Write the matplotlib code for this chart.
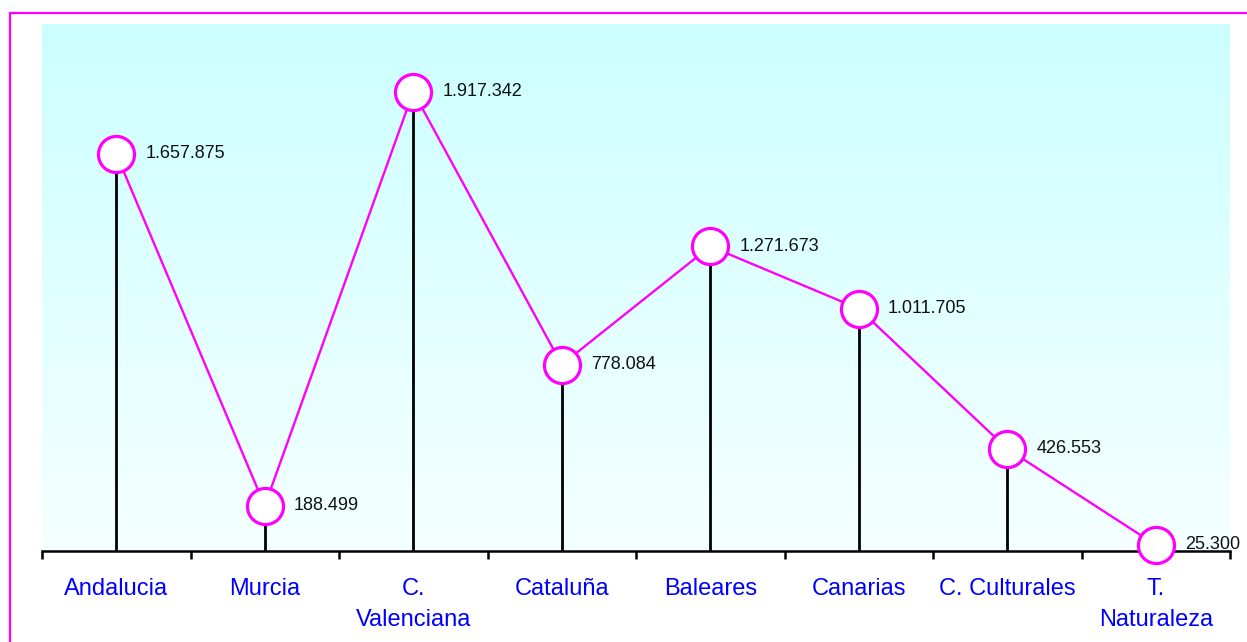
import matplotlib
matplotlib.use("Agg")
import matplotlib.pyplot as plt
import numpy as np
from matplotlib.patches import Rectangle
from matplotlib.colors import LinearSegmentedColormap

categories = ["Andalucia", "Murcia", "C.\nValenciana", "Cataluña", "Baleares",
              "Canarias", "C. Culturales", "T.\nNaturaleza"]
values = [1657875, 188499, 1917342, 778084, 1271673, 1011705, 426553, 25300]
value_labels = ["1.657.875", "188.499", "1.917.342", "778.084", "1.271.673",
                "1.011.705", "426.553", "25.300"]

plt.rcParams['font.family'] = ['Liberation Sans', 'DejaVu Sans']

W, H = 1247, 642
fig = plt.figure(figsize=(W / 100, H / 100), dpi=100)
fig.patch.set_facecolor('white')

# figure border (extends beyond right/bottom edges)
fig.add_artist(Rectangle((10 / W, -0.05), 1.2, 1 - 13 / H + 0.05,
                         transform=fig.transFigure, fill=False,
                         edgecolor='#FF00FF', linewidth=1.6, clip_on=False))

left, right = 42 / W, 1230 / W
bottom, top = 1 - 551 / H, 1 - 24 / H
ax = fig.add_axes([left, bottom, right - left, top - bottom])

x = np.arange(len(categories))
ax.set_xlim(-0.5, len(categories) - 0.5)
ax.set_ylim(0, 2200000)

# gradient background
cmap = LinearSegmentedColormap.from_list('bg', ['#F5FFFF', '#CCFFFF'])
grad = np.linspace(0, 1, 256).reshape(-1, 1)
ax.imshow(grad, aspect='auto', cmap=cmap, origin='lower',
          extent=[0, 1, 0, 1], transform=ax.transAxes, zorder=0)

# drop lines
ax.vlines(x, 0, values, colors='black', linewidth=2.0, zorder=2)
# connecting line
ax.plot(x, values, color='#FF00FF', linewidth=1.7, zorder=3)
# markers
ax.plot(x, values, linestyle='none', marker='o', markersize=26,
        markerfacecolor='white', markeredgecolor='#FF00FF',
        markeredgewidth=2.3, zorder=5, clip_on=False)

# value labels
for xi, v, lab in zip(x, values, value_labels):
    ax.annotate(lab, (xi, v), xytext=(21, 0), textcoords='offset points',
                ha='left', va='center', fontsize=13, color='#111111',
                zorder=6, annotation_clip=False)

for s in ['top', 'right', 'left']:
    ax.spines[s].set_visible(False)
ax.spines['bottom'].set_linewidth(1.8)
ax.spines['bottom'].set_zorder(4)

ax.set_yticks([])
ax.set_xticks(x)
ax.set_xticklabels(categories, fontsize=17, color='#0000FF', linespacing=1.5)
ax.tick_params(axis='x', which='major', length=0, pad=19.5)
ax.set_xticks(np.arange(-0.5, len(categories), 1.0), minor=True)
ax.tick_params(axis='x', which='minor', length=6, width=1.8, direction='out',
               color='black')

fig.savefig('out.png', dpi=100)
